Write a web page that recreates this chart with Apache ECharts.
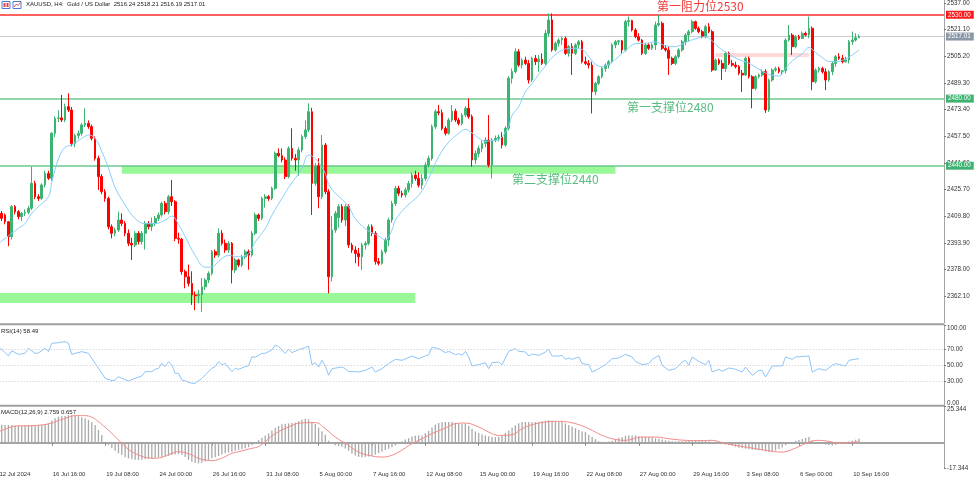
<!DOCTYPE html>
<html><head><meta charset="utf-8">
<script src="https://cdn.jsdelivr.net/npm/echarts@6/dist/echarts.min.js"></script>
<style>html,body{margin:0;padding:0;background:#fff}#c{width:975px;height:479px}</style>
</head><body><div id="c"></div>
<script>
const tickLabels = ["12 Jul 2024","16 Jul 16:00","19 Jul 08:00","24 Jul 00:00","26 Jul 16:00","31 Jul 08:00","5 Aug 00:00","7 Aug 16:00","12 Aug 08:00","15 Aug 00:00","19 Aug 16:00","22 Aug 08:00","27 Aug 00:00","29 Aug 16:00","3 Sep 08:00","6 Sep 00:00","10 Sep 16:00"];
const priceTicks = [2362.1,2378.0,2393.9,2409.8,2425.7,2441.6,2457.5,2473.4,2489.3,2505.2,2521.1,2537.0];

const openP = [
2413.5,2411.6,2410.6,2406.6,2397.7,2415.6,2412.6,2409.6,2411.6,2412.2,
2414.6,2429.5,2421.5,2420.5,2428.5,2435.4,2432.5,2459.3,2468.2,2468.5,
2467.2,2475.2,2473.2,2453.3,2458.0,2459.3,2464.3,2465.3,2463.3,2456.3,
2444.4,2433.5,2424.5,2420.5,2403.6,2399.7,2401.6,2407.6,2405.6,2399.7,
2393.7,2392.7,2399.7,2394.7,2399.7,2405.6,2403.6,2405.6,2408.6,2410.6,
2417.5,2412.6,2421.5,2418.5,2396.7,2396.2,2376.8,2373.8,2369.8,2362.9,
2362.5,2363.2,2367.8,2371.8,2375.8,2388.7,2386.7,2399.7,2393.7,2389.7,
2393.7,2377.8,2383.8,2380.8,2385.7,2388.7,2386.7,2399.7,2410.6,2408.6,
2420.5,2421.5,2420.5,2426.5,2447.4,2446.0,2443.4,2433.5,2450.3,2444.4,
2443.4,2449.4,2457.3,2461.3,2472.2,2429.5,2440.0,2421.5,2452.3,2424.5,
2373.8,2401.6,2409.0,2415.6,2407.6,2415.6,2392.7,2389.7,2387.7,2385.7,
2392.7,2393.7,2403.6,2399.7,2382.8,2381.8,2388.7,2395.7,2407.6,2417.5,
2426.5,2423.5,2422.5,2425.5,2429.4,2434.4,2432.4,2428.4,2432.4,2440.4,
2444.3,2463.2,2472.2,2471.5,2462.2,2459.3,2467.2,2472.5,2467.2,2465.2,
2470.2,2474.2,2469.2,2443.4,2447.3,2450.3,2453.3,2455.3,2440.4,2455.3,
2456.3,2457.0,2452.3,2462.3,2492.1,2496.1,2508.0,2500.0,2503.0,2501.0,
2491.1,2504.0,2502.0,2503.5,2501.0,2518.9,2526.9,2509.0,2513.0,2514.9,
2515.9,2507.0,2511.0,2507.0,2512.0,2513.9,2502.0,2501.0,2500.0,2484.1,
2489.1,2493.1,2498.0,2500.0,2502.0,2512.0,2513.9,2514.5,2509.0,2525.9,
2526.5,2520.9,2516.9,2514.9,2507.0,2512.0,2510.0,2512.0,2523.9,2524.9,
2510.0,2509.0,2504.0,2501.0,2505.0,2509.0,2513.9,2517.9,2519.9,2525.9,
2521.9,2519.9,2516.9,2522.9,2519.9,2497.0,2503.0,2501.0,2498.0,2507.0,
2501.0,2500.0,2499.0,2495.1,2494.1,2504.0,2493.1,2486.1,2493.1,2494.1,
2496.1,2473.2,2491.1,2497.0,2497.8,2496.1,2496.6,2514.9,2517.9,2511.0,
2516.9,2515.9,2518.9,2517.9,2521.9,2490.1,2497.0,2498.0,2496.0,2491.1,
2496.1,2501.0,2505.0,2504.0,2502.0,2503.0,2513.9,2514.9,2516.24];

const highP = [
2414.5,2413.0,2411.5,2407.0,2416.5,2416.5,2413.5,2412.5,2414.0,2416.0,
2439.4,2431.0,2423.0,2429.5,2437.0,2437.0,2460.0,2469.5,2473.0,2482.2,
2477.0,2483.1,2475.0,2459.0,2461.0,2465.5,2474.2,2467.0,2464.5,2457.5,
2446.0,2435.0,2426.0,2421.5,2405.0,2403.0,2412.6,2411.6,2407.0,2402.0,
2397.0,2401.0,2401.0,2401.0,2407.0,2407.0,2409.0,2410.0,2412.0,2418.5,
2419.0,2422.5,2431.5,2419.5,2400.0,2397.0,2378.0,2381.0,2377.0,2365.0,
2366.0,2373.0,2373.0,2377.0,2389.7,2390.0,2402.6,2401.6,2396.0,2395.0,
2394.5,2385.0,2384.5,2387.0,2390.0,2390.0,2401.0,2412.0,2411.5,2421.5,
2423.0,2422.5,2427.5,2448.4,2450.3,2450.3,2445.0,2451.5,2462.3,2447.0,
2451.0,2458.5,2467.0,2477.2,2474.5,2441.4,2444.5,2458.3,2453.5,2426.0,
2410.0,2413.0,2417.0,2417.0,2417.0,2417.0,2394.0,2392.0,2391.0,2394.0,
2395.0,2405.0,2405.0,2401.0,2385.0,2390.0,2397.0,2409.0,2419.0,2428.0,
2428.0,2425.0,2427.0,2431.0,2436.0,2437.0,2436.0,2435.0,2442.0,2446.0,
2464.5,2473.5,2476.2,2473.5,2463.5,2468.5,2476.2,2474.0,2468.5,2471.5,
2475.5,2480.1,2470.5,2449.0,2452.0,2455.0,2457.0,2470.2,2456.5,2458.0,
2458.5,2460.0,2463.5,2493.5,2498.0,2510.0,2509.5,2504.0,2505.0,2503.0,
2505.0,2506.0,2506.0,2507.0,2521.0,2530.8,2530.8,2514.0,2516.0,2517.0,
2517.0,2512.0,2513.0,2513.0,2515.0,2515.0,2505.0,2503.0,2502.0,2490.0,
2494.0,2499.0,2501.0,2503.0,2513.0,2515.0,2515.0,2515.0,2527.0,2528.9,
2527.0,2522.0,2519.0,2515.5,2513.0,2513.0,2513.0,2525.9,2529.9,2526.0,
2512.0,2511.0,2505.0,2506.0,2510.0,2515.0,2519.0,2521.0,2527.0,2526.5,
2523.0,2521.0,2524.0,2525.0,2521.0,2504.0,2504.0,2503.0,2508.0,2508.0,
2503.0,2502.0,2500.0,2497.0,2505.0,2505.0,2494.0,2494.0,2495.0,2497.5,
2497.5,2492.0,2498.0,2499.0,2499.0,2497.0,2516.0,2523.9,2519.0,2518.0,
2518.0,2520.0,2520.0,2528.9,2523.0,2498.0,2499.0,2499.0,2498.0,2497.0,
2502.0,2506.0,2507.0,2506.0,2505.0,2515.0,2520.0,2519.0,2518.21];

const lowP = [
2410.0,2407.0,2405.0,2392.0,2396.0,2411.0,2408.0,2407.0,2410.0,2411.0,
2413.5,2420.0,2419.0,2419.5,2427.0,2431.5,2431.0,2457.0,2466.0,2466.0,
2466.0,2472.0,2451.5,2451.0,2456.0,2458.0,2463.0,2462.0,2455.0,2443.0,
2425.5,2423.0,2418.5,2402.0,2396.7,2398.0,2400.5,2404.0,2398.0,2392.0,
2383.8,2391.5,2393.0,2393.0,2390.0,2402.0,2401.0,2404.0,2407.0,2409.5,
2411.0,2411.0,2416.0,2395.0,2393.5,2375.0,2366.9,2368.0,2357.0,2353.9,
2358.0,2352.9,2366.0,2370.0,2374.5,2385.0,2385.5,2392.5,2388.0,2388.0,
2369.8,2376.0,2379.5,2379.5,2384.5,2378.0,2385.7,2398.5,2407.0,2407.5,
2415.0,2419.0,2419.5,2425.5,2445.0,2442.0,2432.0,2432.5,2443.0,2437.0,
2434.0,2448.0,2456.0,2460.0,2410.6,2428.0,2414.6,2420.0,2423.0,2363.9,
2371.0,2400.0,2403.0,2406.0,2404.0,2391.0,2388.0,2381.8,2380.0,2377.8,
2390.0,2392.5,2398.0,2381.0,2380.5,2381.0,2387.5,2392.0,2406.0,2416.0,
2422.0,2421.0,2421.0,2424.0,2427.0,2431.0,2427.0,2426.0,2431.0,2439.0,
2443.0,2462.0,2470.0,2461.0,2458.0,2458.5,2466.0,2466.0,2464.0,2464.0,
2469.0,2468.0,2439.4,2441.0,2445.0,2448.0,2451.0,2439.0,2432.4,2454.0,
2454.5,2450.3,2451.3,2461.0,2489.0,2495.0,2499.0,2498.0,2500.0,2489.0,
2490.0,2500.0,2496.0,2500.0,2500.0,2517.0,2508.0,2508.0,2511.0,2512.0,
2506.0,2505.0,2494.1,2506.0,2510.0,2501.0,2500.0,2498.0,2471.2,2482.0,
2488.0,2492.0,2496.0,2498.0,2501.0,2510.0,2512.0,2507.0,2508.0,2523.0,
2520.0,2516.0,2514.0,2506.0,2506.0,2509.0,2509.0,2509.0,2523.0,2509.0,
2508.0,2494.1,2500.0,2500.0,2504.0,2508.0,2512.0,2513.9,2519.0,2521.0,
2519.0,2516.0,2516.0,2519.0,2496.0,2496.5,2500.0,2491.1,2496.0,2500.0,
2499.0,2498.0,2494.0,2484.0,2493.5,2492.0,2474.2,2485.0,2492.0,2493.0,
2471.5,2472.0,2490.0,2496.0,2495.0,2494.0,2495.0,2514.0,2506.0,2510.0,
2515.0,2515.5,2517.0,2516.0,2485.0,2489.0,2495.5,2495.0,2485.1,2490.0,
2494.0,2499.0,2503.0,2501.0,2501.5,2501.0,2512.0,2514.0,2516.19];

const closeP = [
2411.6,2408.6,2406.6,2397.7,2415.6,2412.6,2409.6,2411.6,2412.2,2414.6,
2429.5,2421.5,2420.5,2428.5,2435.4,2432.5,2459.3,2468.2,2468.5,2467.2,
2475.2,2473.2,2453.3,2458.0,2459.3,2464.3,2465.3,2463.3,2456.3,2444.4,
2433.5,2424.5,2420.5,2403.6,2399.7,2401.6,2407.6,2405.6,2399.7,2393.7,
2392.7,2399.7,2394.7,2399.7,2405.6,2403.6,2405.6,2408.6,2410.6,2417.5,
2412.6,2421.5,2418.5,2396.7,2396.2,2376.8,2373.8,2369.8,2362.9,2362.5,
2363.2,2367.8,2371.8,2375.8,2388.7,2386.7,2399.7,2393.7,2389.7,2393.7,
2377.8,2383.8,2380.8,2385.7,2388.7,2386.7,2399.7,2410.6,2408.6,2420.5,
2421.5,2420.5,2426.5,2447.4,2446.0,2443.4,2433.5,2450.3,2444.4,2443.4,
2449.4,2457.3,2461.3,2472.2,2429.5,2439.4,2421.5,2452.3,2424.5,2373.8,
2401.6,2411.6,2415.6,2407.6,2415.6,2392.7,2389.7,2387.7,2385.7,2392.7,
2393.7,2403.6,2399.7,2382.8,2381.8,2388.7,2395.7,2407.6,2417.5,2426.5,
2423.5,2422.5,2425.5,2429.4,2434.4,2432.4,2428.4,2432.4,2440.4,2444.3,
2463.2,2472.2,2471.5,2462.2,2459.3,2467.2,2472.5,2467.2,2465.2,2470.2,
2474.2,2469.2,2443.4,2447.3,2450.3,2453.3,2455.3,2440.4,2455.3,2456.3,
2457.0,2452.3,2462.3,2492.1,2496.1,2508.0,2500.0,2503.0,2501.0,2491.1,
2504.0,2502.0,2503.5,2501.0,2518.9,2526.9,2509.0,2513.0,2514.9,2515.9,
2507.0,2511.0,2507.0,2512.0,2513.9,2502.0,2501.0,2500.0,2484.1,2489.1,
2493.1,2498.0,2500.0,2502.0,2512.0,2513.9,2514.5,2509.0,2525.9,2526.5,
2520.9,2516.9,2514.9,2507.0,2512.0,2510.0,2512.0,2523.9,2524.9,2510.0,
2509.0,2504.0,2501.0,2505.0,2509.0,2513.9,2517.9,2519.9,2525.9,2521.9,
2519.9,2516.9,2522.9,2519.9,2497.0,2503.0,2501.0,2498.0,2507.0,2501.0,
2500.0,2499.0,2495.1,2494.1,2504.0,2493.1,2486.1,2493.1,2494.1,2496.1,
2473.2,2491.1,2497.0,2497.8,2496.1,2496.6,2514.9,2517.9,2511.0,2516.9,
2515.9,2518.9,2517.9,2521.9,2490.1,2497.0,2498.0,2496.0,2491.1,2496.1,
2501.0,2505.0,2504.0,2502.0,2503.0,2513.9,2514.9,2516.24,2517.01];

const maPoints = [[0,2393.7],[6,2402.6],[8,2405.6],[10,2411.6],[12,2415.6],[15,2421.5],[16,2430.0],[18,2444.0],[20,2451.0],[22,2452.3],[25,2456.3],[27,2458.3],[29,2456.3],[31,2448.5],[33,2438.5],[35,2427.0],[38,2416.5],[41,2408.5],[44,2405.4],[47,2405.5],[50,2407.5],[52,2410.0],[54,2405.0],[56,2397.7],[59,2386.5],[62,2379.5],[64,2379.5],[66,2383.0],[69,2386.5],[72,2385.7],[75,2387.5],[77,2394.5],[80,2402.5],[82,2410.5],[85,2420.5],[87,2427.0],[89,2432.5],[91,2438.5],[93,2446.4],[94,2445.8],[96,2442.0],[98,2435.4],[99,2429.0],[101,2423.5],[103,2420.0],[105,2415.6],[107,2408.5],[110,2402.5],[112,2400.0],[114,2398.0],[116,2395.7],[118,2401.6],[119,2407.5],[122,2415.0],[125,2420.3],[127,2425.0],[129,2432.5],[132,2445.4],[135,2454.0],[138,2459.3],[140,2461.6],[142,2459.5],[144,2456.5],[146,2454.5],[148,2455.0],[150,2455.5],[152,2460.0],[153,2463.3],[154,2470.0],[156,2475.2],[158,2484.0],[160,2489.0],[162,2494.5],[164,2499.5],[166,2504.5],[169,2508.8],[172,2510.0],[175,2509.3],[177,2505.0],[179,2500.5],[181,2499.0],[183,2500.5],[185,2503.5],[188,2508.5],[191,2512.8],[194,2513.0],[197,2513.8],[200,2511.5],[203,2511.0],[206,2513.5],[209,2515.7],[212,2516.9],[214,2514.5],[216,2510.5],[219,2506.5],[222,2503.3],[225,2501.2],[228,2497.5],[231,2494.5],[234,2493.5],[236,2498.0],[238,2502.5],[241,2506.8],[243,2510.5],[245,2507.5],[247,2504.5],[249,2502.2],[251,2502.0],[253,2502.8],[255,2504.7],[258,2509.0]];

const rsiPoints = [[0,71.2],[1,70.0],[3,61.8],[4,68.3],[6,63.8],[8,65.0],[9,71.2],[11,65.0],[12,65.5],[14,71.2],[15,67.1],[16,77.4],[18,78.2],[20,79.5],[21,77.4],[22,63.8],[23,65.0],[25,67.1],[27,65.0],[29,52.7],[30,46.5],[32,34.2],[34,31.3],[35,32.1],[36,36.2],[37,34.2],[39,30.9],[41,34.2],[43,37.1],[44,42.4],[46,42.4],[47,45.3],[48,46.5],[49,52.7],[50,48.6],[51,54.8],[52,50.7],[53,40.4],[54,40.4],[55,32.1],[56,30.9],[58,28.0],[59,28.0],[61,34.2],[62,38.3],[64,46.5],[65,48.6],[66,54.8],[67,50.7],[68,52.7],[70,42.4],[71,46.5],[72,45.3],[74,48.6],[75,49.8],[76,60.9],[77,60.1],[79,65.0],[80,65.0],[82,69.2],[83,75.3],[84,73.3],[86,65.0],[87,70.0],[88,65.9],[90,69.5],[92,72.0],[93,74.1],[94,51.0],[95,53.5],[96,48.1],[97,56.4],[98,49.4],[99,37.9],[100,46.1],[103,48.1],[104,46.1],[105,42.8],[108,42.0],[110,44.0],[112,48.1],[113,42.0],[115,46.1],[117,52.3],[119,57.6],[121,56.4],[124,61.7],[126,58.4],[129,63.4],[130,72.4],[132,70.8],[134,65.8],[135,67.5],[137,63.4],[138,64.6],[139,62.5],[140,67.5],[141,60.5],[142,49.4],[144,51.0],[146,53.5],[147,46.1],[148,53.5],[150,54.3],[151,51.0],[153,67.5],[155,70.8],[156,67.5],[158,66.7],[159,61.7],[160,64.2],[162,62.5],[164,66.7],[165,70.0],[166,61.7],[168,61.7],[169,62.5],[170,57.6],[171,59.3],[172,57.6],[174,60.5],[175,52.3],[177,51.0],[178,42.0],[180,46.1],[182,51.0],[184,58.4],[186,59.3],[188,63.8],[190,60.5],[191,55.1],[193,51.0],[195,52.3],[196,57.6],[198,62.5],[199,50.2],[201,44.0],[203,46.1],[205,54.3],[206,56.4],[207,50.2],[208,60.5],[210,55.1],[212,51.0],[213,56.4],[214,42.0],[216,45.3],[217,42.8],[219,46.9],[221,45.3],[223,42.0],[224,48.1],[226,37.9],[228,44.0],[229,44.0],[230,35.8],[232,49.4],[235,49.4],[236,60.5],[238,57.6],[239,60.5],[243,61.7],[244,42.0],[246,46.1],[248,44.0],[250,50.2],[251,52.3],[254,49.4],[255,56.4],[258,58.49]];

const macdHist = [
12.3,12.4,12.3,12.2,12.1,12.0,11.9,11.9,12.0,12.1,12.3,12.2,12.1,12.2,12.6,
13.4,15.3,16.9,18.0,18.3,18.5,19.0,19.2,18.7,18.2,17.6,16.9,15.8,14.2,12.3,
8.8,5.4,0.8,-1.5,-3.8,-5.4,-7.2,-8.4,-10.0,-10.8,-11.4,-11.6,-11.8,-11.6,-11.4,
-11.0,-10.7,-10.3,-10.0,-9.7,-9.5,-9.0,-8.4,-8.0,-7.7,-8.2,-9.8,-11.8,-13.0,-13.8,
-14.1,-13.7,-12.8,-11.8,-10.7,-9.9,-9.1,-8.1,-7.2,-6.6,-6.1,-5.5,-4.9,-4.3,-3.8,
-3.0,-1.6,0.5,1.9,3.5,5.0,6.5,8.4,10.2,11.6,12.7,13.2,13.4,13.6,13.9,
14.8,15.8,16.5,16.2,14.5,13.2,10.5,8.0,5.5,1.5,-0.8,-1.6,-2.2,-2.7,-4.0,
-5.5,-7.5,-8.8,-9.7,-9.9,-9.8,-9.4,-8.9,-8.0,-7.0,-6.1,-5.0,-4.1,-3.0,-1.9,
-0.5,1.0,2.2,3.2,4.3,4.8,5.0,5.1,6.5,8.2,10.6,12.6,13.6,14.1,14.3,
14.3,14.3,13.8,13.2,13.2,13.2,11.8,9.7,7.8,6.8,5.8,5.1,4.5,4.0,3.9,
4.0,4.8,6.8,8.5,10.3,12.0,13.4,14.3,14.4,14.3,14.2,14.3,14.3,14.8,15.2,
15.5,15.2,14.8,14.5,14.3,13.4,12.2,11.0,10.0,8.8,7.9,7.4,5.6,4.0,2.5,
1.0,0.7,0.5,0.9,1.5,2.5,3.4,4.0,4.8,5.1,5.1,5.1,4.6,4.1,4.0,
4.0,3.6,3.2,2.8,2.3,1.8,1.5,1.1,1.0,1.0,1.1,1.3,1.5,1.6,1.7,
1.7,1.7,1.4,1.1,0.6,0.1,-0.4,-0.9,-1.3,-1.7,-2.1,-2.7,-3.4,-3.8,-4.1,
-4.4,-4.7,-4.9,-5.1,-5.2,-5.9,-6.4,-6.0,-5.3,-4.3,-3.2,-1.8,-0.5,0.5,1.4,
2.0,2.7,3.4,4.0,1.8,0.4,0.0,-0.6,-1.3,-1.6,-1.8,-1.3,-0.7,-0.2,0.4,
0.9,1.4,2.1,2.76];

const signalPoints = [[0,7.7],[2,9.3],[4,11.1],[6,11.6],[10,11.8],[15,13.0],[18,15.3],[21,17.6],[23,18.7],[26,18.7],[28,17.6],[30,14.6],[32,10.7],[34,6.5],[36,1.9],[38,-2.6],[40,-6.1],[42,-8.4],[44,-10.0],[46,-10.7],[49,-10.0],[52,-7.2],[54,-6.1],[56,-6.8],[58,-8.4],[60,-10.7],[62,-11.8],[64,-12.3],[66,-11.4],[68,-9.5],[70,-7.2],[72,-6.1],[74,-4.9],[76,-3.8],[78,-2.6],[80,0.8],[82,4.7],[84,7.7],[86,10.0],[88,11.8],[90,13.5],[95,13.9],[98,9.7],[101,4.0],[105,-1.8],[108,-6.4],[111,-8.6],[115,-9.8],[117,-9.3],[120,-6.4],[124,-0.6],[127,2.8],[130,6.3],[134,10.2],[137,13.2],[140,13.6],[144,10.9],[147,7.4],[150,5.1],[154,5.6],[157,9.7],[160,12.5],[164,14.3],[168,14.8],[173,13.2],[177,9.7],[181,5.1],[185,2.3],[188,1.7],[193,4.0],[197,4.0],[201,2.8],[206,1.7],[210,1.5],[214,1.7],[217,0.1],[221,-1.8],[226,-3.6],[230,-5.2],[235,-6.4],[239,-3.6],[243,0.5],[246,1.7],[249,1.0],[252,-0.2],[255,0.2],[258,0.66]];

const levels = [
  {value: 2530, text: '2530.00', line: '#ff2b2b', box: '#ff1a1a', width: 1.5},
  {value: 2517.01, text: '2517.01', line: '#c9cdd3', box: '#8a97a8', width: 1},
  {value: 2480, text: '2480.00', line: '#6cc790', box: '#3cb371', width: 1.5},
  {value: 2440, text: '2440.00', line: '#6cc790', box: '#3cb371', width: 1.5}
];
const bands = [
  {x0: 37, x1: 185, y0: 2440.0, y1: 2435.2, color: '#98f898'},
  {x0: 0, x1: 125, y0: 2364.1, y1: 2358.1, color: '#98f898'},
  {x0: 215, x1: 243, y0: 2507.2, y1: 2504.8, color: 'rgba(255,170,170,0.45)'}
];

const N = 284;
const cats = Array.from({length: N}, (_, i) => String(i));
const candles = openP.map((o, i) => [o, closeP[i], lowP[i], highP[i]]);
const FONT = 'Liberation Sans';
const showTick = (idx) => idx % 16 === 0 && idx / 16 < tickLabels.length;

const chart = echarts.init(document.getElementById('c'), null, {renderer: 'canvas'});
const gridL = -3.27, gridR = 31;
const xBase = (gi, show) => ({
  type: 'category', gridIndex: gi, data: cats, boundaryGap: true,
  axisLine: {show: show, lineStyle: {color: '#a4a4a4', width: 2}},
  axisTick: {show: show, interval: showTick, alignWithLabel: true, length: 3, lineStyle: {color: '#888'}},
  axisLabel: {show: show, interval: showTick, formatter: (v, idx) => tickLabels[Math.round(idx / 16)] || '',
    align: 'left', fontSize: 6, color: '#333', fontFamily: FONT, margin: 3, padding: [0,0,0,1], hideOverlap: false},
  splitLine: {show: false}
});
const yLab = {fontSize: 6.3, color: '#333', fontFamily: FONT, margin: 3};
const gridBase = {left: gridL, right: gridR, outerBoundsMode: 'none', containLabel: false};

chart.setOption({
  animation: false,
  backgroundColor: '#fff',
  grid: [
    Object.assign({top: 0, height: 323}, gridBase),
    Object.assign({top: 325, height: 81}, gridBase),
    Object.assign({top: 406, height: 62}, gridBase)
  ],
  xAxis: [xBase(0, false), xBase(1, false), xBase(2, true)],
  yAxis: [
    {type: 'value', gridIndex: 0, position: 'right', min: 2346.2, max: 2538.8, scale: true, z: 1,
      axisLine: {show: true, lineStyle: {color: '#a4a4a4'}},
      axisTick: {show: true, length: 2, customValues: priceTicks, lineStyle: {color: '#777'}},
      axisLabel: Object.assign({customValues: priceTicks, formatter: v => v.toFixed(2)}, yLab),
      splitLine: {show: false}},
    {type: 'value', gridIndex: 1, position: 'right', min: 0, max: 100,
      axisLine: {show: true, lineStyle: {color: '#a4a4a4'}},
      axisTick: {show: true, length: 2, customValues: [0, 30, 50, 70, 100], lineStyle: {color: '#777'}},
      axisLabel: Object.assign({customValues: [0, 30, 50, 70, 100], formatter: v => v.toFixed(2),
        verticalAlignMaxLabel: 'top', verticalAlignMinLabel: 'bottom'}, yLab),
      splitLine: {show: false}},
    {type: 'value', gridIndex: 2, position: 'right', min: -17.344, max: 25.344,
      axisLine: {show: true, lineStyle: {color: '#a4a4a4'}},
      axisTick: {show: true, length: 2, customValues: [-17.344, 25.344], lineStyle: {color: '#777'}},
      axisLabel: Object.assign({customValues: [-17.344, 25.344], formatter: v => v.toFixed(3),
        verticalAlignMaxLabel: 'top', verticalAlignMinLabel: 'middle'}, yLab),
      splitLine: {show: false}}
  ],
  series: [
    {type: 'line', name: 'zones', xAxisIndex: 0, yAxisIndex: 0, data: [], z: 1, silent: true,
      markArea: {silent: true, data: bands.map(b => [
        {xAxis: b.x0, yAxis: b.y0, itemStyle: {color: b.color}},
        {xAxis: b.x1, yAxis: b.y1}])}},
    {type: 'candlestick', name: 'XAUUSD', xAxisIndex: 0, yAxisIndex: 0, data: candles, z: 3, zlevel: 1,
      barWidth: 2.2,
      itemStyle: {color: '#3cb371', color0: '#ff0000', borderColor: '#3cb371', borderColor0: '#ff0000', borderWidth: 1},
      markLine: {silent: true, symbol: ['none', 'none'], z: 10,
        data: levels.map(l => ({yAxis: l.value,
          lineStyle: {color: l.line, width: l.width, type: 'solid'},
          label: {show: true, position: 'end', distance: 2, formatter: l.text, color: '#fff',
            backgroundColor: l.box, padding: [1, 3, 1, 2], fontSize: 6.3, fontFamily: FONT}}))}},
    {type: 'line', name: 'MA', xAxisIndex: 0, yAxisIndex: 0, data: maPoints, smooth: 0.4, zlevel: 1,
      showSymbol: false, z: 4, lineStyle: {color: '#87cefa', width: 1}},
    {type: 'line', name: 'RSI', xAxisIndex: 1, yAxisIndex: 1, data: rsiPoints, showSymbol: false,
      lineStyle: {color: '#8cc4f8', width: 1}, z: 4,
      markLine: {silent: true, symbol: ['none', 'none'], label: {show: false},
        lineStyle: {color: '#c8c8c8', type: [1, 2], width: 1},
        data: [{yAxis: 70}, {yAxis: 50}, {yAxis: 30}]}},
    {type: 'bar', name: 'MACD', xAxisIndex: 2, yAxisIndex: 2, data: macdHist, barWidth: 1.3,
      itemStyle: {color: '#a8a8a8'}, z: 2},
    {type: 'line', name: 'Signal', xAxisIndex: 2, yAxisIndex: 2, data: signalPoints, smooth: 0.4,
      showSymbol: false, lineStyle: {color: '#f28a8a', width: 1}, z: 4}
  ],
  graphic: [
    {type: 'rect', shape: {x: 0, y: 323.3, width: 944, height: 2}, style: {fill: '#a0a0a0'}, z: 20},
    {type: 'rect', shape: {x: 0, y: 404.8, width: 944, height: 2}, style: {fill: '#a0a0a0'}, z: 20},
    {type: 'rect', shape: {x: 2, y: 1.5, width: 8, height: 7}, style: {fill: '#fff', stroke: '#4a7fd0', lineWidth: 1}, z: 20},
    {type: 'rect', shape: {x: 3.5, y: 3, width: 2, height: 4}, style: {fill: '#e04848'}, z: 21},
    {type: 'rect', shape: {x: 6.5, y: 3, width: 2, height: 4}, style: {fill: '#e04848'}, z: 21},
    {type: 'rect', shape: {x: 13, y: 1.5, width: 8, height: 7}, style: {fill: '#fff', stroke: '#4a7fd0', lineWidth: 1}, z: 20},
    {type: 'polyline', shape: {points: [[14, 7], [16.5, 4], [18, 5.5], [20.5, 2.5]]}, style: {stroke: '#e04848', lineWidth: 1, fill: null}, z: 21},
    {type: 'text', left: 26, top: 1.5, z: 20, style: {text: 'XAUUSD, H4:  Gold / US Dollar  2516.24 2518.21 2516.19 2517.01',
      font: '6px "Liberation Sans"', fill: '#222'}},
    {type: 'text', left: 1, top: 328, z: 20, style: {text: 'RSI(14) 58.49', font: '6px "Liberation Sans"', fill: '#222'}},
    {type: 'text', left: 1, top: 409.5, z: 20, style: {text: 'MACD(12,26,9) 2.759 0.657', font: '6px "Liberation Sans"', fill: '#222'}},
    {type: 'text', left: 657, top: 0, z: 20, zlevel: 2, style: {text: '第一阻力位2530', font: '12px "Noto Sans CJK SC"', fill: '#f03a3a'}},
    {type: 'text', left: 627, top: 101, z: 20, zlevel: 2, style: {text: '第一支撑位2480', font: '12px "Noto Sans CJK SC"', fill: '#58bb80'}},
    {type: 'text', left: 512, top: 173, z: 20, zlevel: 2, style: {text: '第二支撑位2440', font: '12px "Noto Sans CJK SC"', fill: '#58bb80'}}
  ]
});
</script>
</body></html>
